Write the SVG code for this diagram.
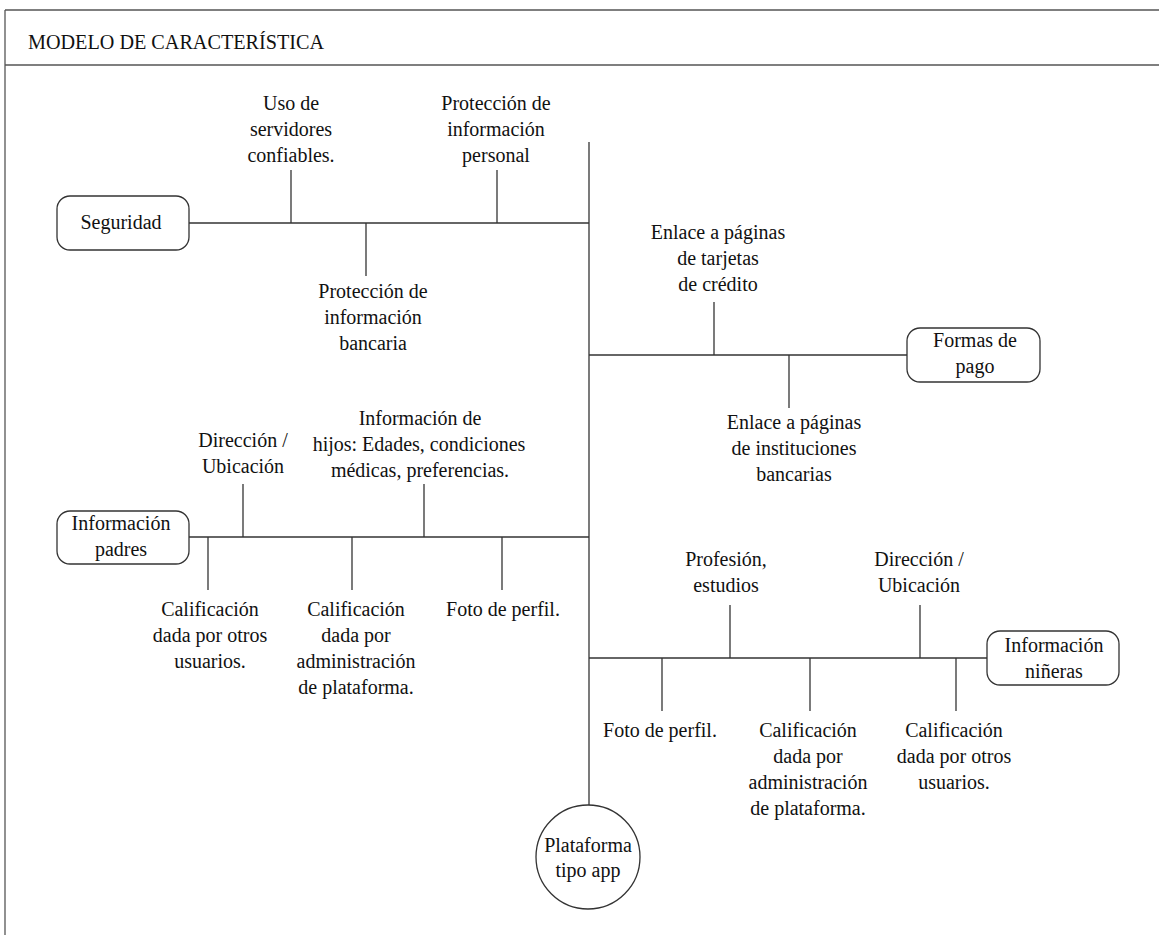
<svg xmlns="http://www.w3.org/2000/svg" width="1159" height="935" viewBox="0 0 1159 935">
<style>
  text { font-family: "Liberation Serif", "Times New Roman", serif; font-size: 20px; fill: #111; text-anchor: middle; }
  .title { font-size: 20.2px; text-anchor: start; }
  .frame { stroke: #555; stroke-width: 1.3; fill: none; }
  .ln { stroke: #333; stroke-width: 1.3; fill: none; }
  .box { fill: #fff; stroke: #333; stroke-width: 1.3; }
</style>
<rect width="1159" height="935" fill="#fff"/>
<g id="frame">
  <line class="frame" x1="5" y1="10" x2="1159" y2="10"/>
  <line class="frame" x1="5" y1="10" x2="5" y2="935"/>
  <line class="frame" x1="5" y1="65" x2="1159" y2="65"/>
  <text class="title" x="28" y="49">MODELO DE CARACTERÍSTICA</text>
</g>
<g id="connectors">
  <line class="ln" x1="589" y1="142" x2="589" y2="805"/>
  <!-- Seguridad -->
  <line class="ln" x1="189" y1="223" x2="589" y2="223"/>
  <line class="ln" x1="291" y1="170" x2="291" y2="223"/>
  <line class="ln" x1="497" y1="170" x2="497" y2="223"/>
  <line class="ln" x1="366" y1="223" x2="366" y2="276"/>
  <!-- Formas de pago -->
  <line class="ln" x1="589" y1="355" x2="907" y2="355"/>
  <line class="ln" x1="714" y1="302" x2="714" y2="355"/>
  <line class="ln" x1="789" y1="355" x2="789" y2="408"/>
  <!-- Información padres -->
  <line class="ln" x1="189" y1="537" x2="589" y2="537"/>
  <line class="ln" x1="243" y1="484" x2="243" y2="537"/>
  <line class="ln" x1="424" y1="484" x2="424" y2="537"/>
  <line class="ln" x1="208" y1="537" x2="208" y2="590"/>
  <line class="ln" x1="352" y1="537" x2="352" y2="590"/>
  <line class="ln" x1="502" y1="537" x2="502" y2="590"/>
  <!-- Información niñeras -->
  <line class="ln" x1="589" y1="658" x2="987" y2="658"/>
  <line class="ln" x1="730" y1="605" x2="730" y2="658"/>
  <line class="ln" x1="920" y1="605" x2="920" y2="658"/>
  <line class="ln" x1="662" y1="658" x2="662" y2="711"/>
  <line class="ln" x1="810" y1="658" x2="810" y2="711"/>
  <line class="ln" x1="956" y1="658" x2="956" y2="711"/>
</g>
<g id="seguridad">
  <rect class="box" x="57" y="196" width="132" height="54" rx="13"/>
  <text x="121" y="229">Seguridad</text>
</g>
<g id="formas-pago">
  <rect class="box" x="907" y="328" width="133" height="54" rx="13"/>
  <text x="975" y="347">Formas de</text>
  <text x="975" y="373">pago</text>
</g>
<g id="info-padres">
  <rect class="box" x="57" y="511" width="132" height="53" rx="13"/>
  <text x="121" y="530">Información</text>
  <text x="121" y="556">padres</text>
</g>
<g id="info-nineras">
  <rect class="box" x="987" y="631" width="132" height="54" rx="13"/>
  <text x="1054" y="652">Información</text>
  <text x="1054" y="678">niñeras</text>
</g>
<g id="plataforma">
  <circle class="box" cx="588" cy="857" r="52"/>
  <text x="588" y="852">Plataforma</text>
  <text x="588" y="877">tipo app</text>
</g>
<g id="uso-servidores">
  <text x="291" y="110">Uso de</text>
  <text x="291" y="136">servidores</text>
  <text x="291" y="162">confiables.</text>
</g>
<g id="proteccion-personal">
  <text x="496" y="110">Protección de</text>
  <text x="496" y="136">información</text>
  <text x="496" y="162">personal</text>
</g>
<g id="proteccion-bancaria">
  <text x="373" y="298">Protección de</text>
  <text x="373" y="324">información</text>
  <text x="373" y="350">bancaria</text>
</g>
<g id="enlace-tarjetas">
  <text x="718" y="239">Enlace a páginas</text>
  <text x="718" y="265">de tarjetas</text>
  <text x="718" y="291">de crédito</text>
</g>
<g id="enlace-bancarias">
  <text x="794" y="429">Enlace a páginas</text>
  <text x="794" y="455">de instituciones</text>
  <text x="794" y="481">bancarias</text>
</g>
<g id="padres-direccion">
  <text x="243" y="447">Dirección /</text>
  <text x="243" y="473">Ubicación</text>
</g>
<g id="padres-hijos">
  <text x="420" y="425">Información de</text>
  <text x="419" y="451">hijos: Edades, condiciones</text>
  <text x="420" y="477">médicas, preferencias.</text>
</g>
<g id="padres-calif-usuarios">
  <text x="210" y="616">Calificación</text>
  <text x="210" y="642">dada por otros</text>
  <text x="210" y="668">usuarios.</text>
</g>
<g id="padres-calif-admin">
  <text x="356" y="616">Calificación</text>
  <text x="356" y="642">dada por</text>
  <text x="356" y="668">administración</text>
  <text x="356" y="694">de plataforma.</text>
</g>
<g id="padres-foto">
  <text x="503" y="616">Foto de perfil.</text>
</g>
<g id="nineras-profesion">
  <text x="726" y="566">Profesión,</text>
  <text x="726" y="592">estudios</text>
</g>
<g id="nineras-direccion">
  <text x="919" y="566">Dirección /</text>
  <text x="919" y="592">Ubicación</text>
</g>
<g id="nineras-foto">
  <text x="660" y="737">Foto de perfil.</text>
</g>
<g id="nineras-calif-admin">
  <text x="808" y="737">Calificación</text>
  <text x="808" y="763">dada por</text>
  <text x="808" y="789">administración</text>
  <text x="808" y="815">de plataforma.</text>
</g>
<g id="nineras-calif-usuarios">
  <text x="954" y="737">Calificación</text>
  <text x="954" y="763">dada por otros</text>
  <text x="954" y="789">usuarios.</text>
</g>
</svg>
